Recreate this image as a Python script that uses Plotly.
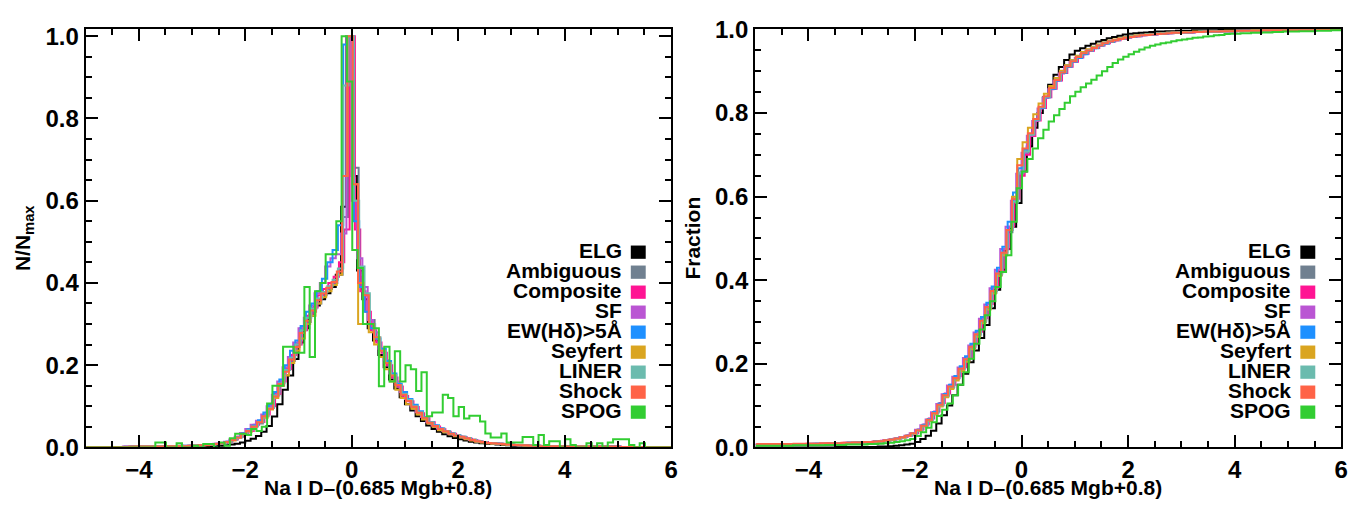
import numpy as np
import plotly.graph_objects as go

# ---------------- data ----------------
series_names = ["ELG", "Ambiguous", "Composite", "SF", "EW(H\u03b4)>5\u00c5",
                "Seyfert", "LINER", "Shock", "SPOG"]
series_colors = ["#000000", "#708090", "#FF1493", "#BA55D3", "#1E90FF",
                 "#DAA520", "#6BBBAE", "#FF6347", "#32CD32"]
bin_width = 0.1
first_edge = -5.0
bin_offsets = [0.00, 0.03, 0.06, 0.00, 0.04, 0.02, 0.04, 0.02, 0.01]

x_tick_values = [-4, -2, 0, 2, 4, 6]
y_tick_values = [0.0, 0.2, 0.4, 0.6, 0.8, 1.0]

# N/Nmax histograms (bins of 0.1 from -5 to 6)
hist_elg = [
    0, 0, 0, 0, 0, 0, 0, 0, 0, 0,
    0, 0, 0, 0, 0, 0.001, 0.001, 0.001, 0.001, 0.001,
    0.001, 0.002, 0.002, 0.003, 0.003, 0.004, 0.005, 0.007, 0.009, 0.012,
    0.016, 0.021, 0.028, 0.038, 0.052, 0.075, 0.105, 0.140, 0.175, 0.215,
    0.255, 0.290, 0.320, 0.345, 0.360, 0.375, 0.390, 0.420, 0.585, 1.000,
    0.660, 0.430, 0.360, 0.290, 0.260, 0.225, 0.195, 0.165, 0.143, 0.122,
    0.105, 0.090, 0.076, 0.064, 0.053, 0.045, 0.038, 0.032, 0.027, 0.023,
    0.020, 0.017, 0.014, 0.012, 0.010, 0.009, 0.008, 0.007, 0.006, 0.005,
    0.004, 0.004, 0.003, 0.003, 0.003, 0.002, 0.002, 0.002, 0.002, 0.002,
    0.001, 0.001, 0.001, 0.001, 0.001, 0.001, 0.001, 0.001, 0.001, 0.001,
    0.001, 0.001, 0.001, 0.001, 0.001, 0, 0, 0, 0, 0]
hist_ambiguous = [
    0.001, 0.001, 0.001, 0.001, 0.001, 0.001, 0.001, 0.002, 0.002, 0.002,
    0.002, 0.002, 0.002, 0.003, 0.002, 0.003, 0.003, 0.004, 0.003, 0.004,
    0.004, 0.005, 0.006, 0.007, 0.009, 0.011, 0.013, 0.019, 0.025, 0.033,
    0.043, 0.052, 0.058, 0.078, 0.098, 0.128, 0.150, 0.190, 0.210, 0.250,
    0.290, 0.305, 0.330, 0.350, 0.370, 0.385, 0.400, 0.420, 0.560, 1.000,
    0.680, 0.420, 0.370, 0.310, 0.265, 0.240, 0.210, 0.170, 0.150, 0.128,
    0.116, 0.098, 0.086, 0.070, 0.062, 0.050, 0.046, 0.038, 0.034, 0.028,
    0.025, 0.022, 0.019, 0.015, 0.012, 0.011, 0.010, 0.009, 0.007, 0.007,
    0.006, 0.005, 0.005, 0.004, 0.004, 0.003, 0.003, 0.003, 0.002, 0.002,
    0.002, 0.002, 0.002, 0.002, 0.002, 0.002, 0.002, 0.002, 0.002, 0.002,
    0.001, 0.001, 0.001, 0.001, 0.001, 0.001, 0.001, 0.001, 0.001, 0.001]
hist_composite = [
    0.001, 0.001, 0.001, 0.001, 0.001, 0.001, 0.001, 0.001, 0.002, 0.002,
    0.002, 0.002, 0.002, 0.002, 0.003, 0.003, 0.003, 0.003, 0.003, 0.004,
    0.004, 0.005, 0.006, 0.008, 0.009, 0.011, 0.014, 0.019, 0.026, 0.033,
    0.040, 0.055, 0.062, 0.080, 0.100, 0.130, 0.160, 0.190, 0.225, 0.250,
    0.285, 0.320, 0.340, 0.370, 0.385, 0.400, 0.415, 0.450, 0.530, 1.000,
    0.530, 0.380, 0.330, 0.285, 0.255, 0.230, 0.200, 0.170, 0.148, 0.125,
    0.112, 0.098, 0.083, 0.071, 0.061, 0.051, 0.044, 0.038, 0.033, 0.028,
    0.025, 0.021, 0.018, 0.015, 0.013, 0.011, 0.010, 0.009, 0.008, 0.007,
    0.006, 0.005, 0.004, 0.004, 0.004, 0.003, 0.003, 0.003, 0.002, 0.002,
    0.002, 0.002, 0.002, 0.002, 0.002, 0.002, 0.002, 0.002, 0.002, 0.002,
    0.001, 0.001, 0.001, 0.001, 0.001, 0.001, 0.001, 0.001, 0.001, 0.001]
hist_sf = [
    0.001, 0.001, 0.001, 0.001, 0.001, 0.001, 0.001, 0.002, 0.001, 0.002,
    0.002, 0.002, 0.002, 0.002, 0.003, 0.003, 0.003, 0.003, 0.004, 0.004,
    0.004, 0.005, 0.006, 0.007, 0.009, 0.011, 0.014, 0.019, 0.026, 0.035,
    0.045, 0.055, 0.065, 0.080, 0.100, 0.128, 0.160, 0.195, 0.220, 0.255,
    0.290, 0.315, 0.345, 0.375, 0.400, 0.440, 0.460, 0.470, 0.520, 1.000,
    0.600, 0.460, 0.390, 0.310, 0.280, 0.240, 0.212, 0.180, 0.160, 0.135,
    0.118, 0.102, 0.086, 0.074, 0.062, 0.053, 0.046, 0.040, 0.034, 0.030,
    0.026, 0.022, 0.018, 0.016, 0.013, 0.011, 0.010, 0.009, 0.008, 0.007,
    0.006, 0.005, 0.005, 0.004, 0.004, 0.003, 0.003, 0.003, 0.003, 0.002,
    0.002, 0.002, 0.002, 0.002, 0.002, 0.002, 0.002, 0.002, 0.002, 0.002,
    0.001, 0.001, 0.001, 0.001, 0.001, 0.001, 0.001, 0.001, 0.001, 0.001]
hist_ew = [
    0.001, 0.001, 0.001, 0.001, 0.001, 0.001, 0.001, 0.001, 0.002, 0.002,
    0.002, 0.002, 0.002, 0.002, 0.002, 0.003, 0.003, 0.003, 0.004, 0.004,
    0.004, 0.005, 0.006, 0.007, 0.008, 0.010, 0.014, 0.019, 0.025, 0.034,
    0.044, 0.053, 0.066, 0.085, 0.105, 0.135, 0.165, 0.200, 0.235, 0.260,
    0.295, 0.330, 0.350, 0.380, 0.410, 0.450, 0.480, 0.540, 0.980, 1.000,
    0.550, 0.390, 0.330, 0.290, 0.265, 0.240, 0.210, 0.180, 0.155, 0.135,
    0.118, 0.104, 0.088, 0.074, 0.062, 0.054, 0.046, 0.040, 0.034, 0.030,
    0.026, 0.022, 0.018, 0.015, 0.013, 0.011, 0.010, 0.009, 0.008, 0.007,
    0.006, 0.005, 0.005, 0.004, 0.004, 0.003, 0.003, 0.003, 0.003, 0.002,
    0.002, 0.002, 0.002, 0.002, 0.002, 0.002, 0.002, 0.002, 0.002, 0.002,
    0.001, 0.001, 0.001, 0.001, 0.001, 0.001, 0.001, 0.001, 0.001, 0.001]
hist_seyfert = [
    0.001, 0.001, 0.001, 0.001, 0.001, 0.001, 0.001, 0.001, 0.001, 0.002,
    0.002, 0.002, 0.002, 0.002, 0.002, 0.002, 0.003, 0.003, 0.003, 0.003,
    0.004, 0.005, 0.005, 0.007, 0.008, 0.010, 0.013, 0.017, 0.023, 0.030,
    0.038, 0.050, 0.062, 0.072, 0.092, 0.120, 0.150, 0.175, 0.205, 0.235,
    0.265, 0.300, 0.320, 0.350, 0.365, 0.380, 0.395, 0.420, 0.660, 1.000,
    0.640, 0.300, 0.300, 0.280, 0.250, 0.220, 0.190, 0.160, 0.140, 0.120,
    0.105, 0.094, 0.080, 0.068, 0.058, 0.050, 0.042, 0.037, 0.032, 0.027,
    0.024, 0.020, 0.017, 0.014, 0.012, 0.010, 0.009, 0.008, 0.007, 0.006,
    0.006, 0.005, 0.004, 0.004, 0.003, 0.003, 0.003, 0.002, 0.002, 0.002,
    0.002, 0.002, 0.002, 0.002, 0.002, 0.001, 0.001, 0.001, 0.001, 0.001,
    0.001, 0.001, 0.001, 0.001, 0.001, 0.001, 0.001, 0.001, 0.001, 0.001]
hist_liner = [
    0.001, 0.001, 0.001, 0.001, 0.001, 0.001, 0.001, 0.001, 0.002, 0.002,
    0.002, 0.002, 0.002, 0.002, 0.002, 0.003, 0.003, 0.003, 0.003, 0.004,
    0.004, 0.005, 0.006, 0.007, 0.008, 0.010, 0.013, 0.018, 0.024, 0.032,
    0.042, 0.051, 0.061, 0.076, 0.096, 0.126, 0.156, 0.188, 0.218, 0.250,
    0.285, 0.315, 0.338, 0.362, 0.378, 0.392, 0.408, 0.435, 0.880, 1.000,
    0.600, 0.440, 0.375, 0.300, 0.268, 0.235, 0.205, 0.176, 0.152, 0.130,
    0.115, 0.100, 0.085, 0.072, 0.061, 0.052, 0.045, 0.039, 0.033, 0.029,
    0.026, 0.022, 0.018, 0.015, 0.013, 0.011, 0.010, 0.009, 0.008, 0.007,
    0.006, 0.005, 0.005, 0.004, 0.004, 0.003, 0.003, 0.003, 0.003, 0.002,
    0.002, 0.002, 0.002, 0.002, 0.002, 0.002, 0.002, 0.002, 0.002, 0.002,
    0.001, 0.001, 0.001, 0.001, 0.001, 0.001, 0.001, 0.001, 0.001, 0.001]
hist_shock = [
    0.001, 0.001, 0.001, 0.001, 0.001, 0.001, 0.001, 0.001, 0.002, 0.002,
    0.002, 0.002, 0.002, 0.002, 0.002, 0.003, 0.003, 0.003, 0.003, 0.004,
    0.004, 0.005, 0.006, 0.007, 0.008, 0.010, 0.013, 0.018, 0.024, 0.032,
    0.040, 0.050, 0.061, 0.076, 0.094, 0.124, 0.154, 0.184, 0.214, 0.244,
    0.278, 0.308, 0.333, 0.358, 0.374, 0.388, 0.402, 0.428, 0.660, 1.000,
    0.640, 0.400, 0.370, 0.300, 0.268, 0.235, 0.205, 0.175, 0.152, 0.128,
    0.113, 0.099, 0.084, 0.072, 0.060, 0.052, 0.045, 0.039, 0.033, 0.029,
    0.026, 0.022, 0.018, 0.015, 0.013, 0.011, 0.010, 0.009, 0.008, 0.007,
    0.006, 0.005, 0.005, 0.004, 0.004, 0.003, 0.003, 0.003, 0.003, 0.002,
    0.002, 0.002, 0.002, 0.002, 0.002, 0.002, 0.002, 0.002, 0.002, 0.002,
    0.001, 0.001, 0.001, 0.001, 0.001, 0.001, 0.001, 0.001, 0.001, 0.001]
hist_spog = [
    0, 0, 0, 0, 0, 0, 0, 0, 0, 0,
    0, 0, 0, 0.012, 0.012, 0, 0, 0.010, 0, 0,
    0.004, 0, 0.008, 0.008, 0, 0.012, 0.004, 0.022, 0.033, 0.033,
    0.030, 0.045, 0.040, 0.050, 0.107, 0.150, 0.150, 0.245, 0.245, 0.230,
    0.230, 0.390, 0.220, 0.380, 0.400, 0.470, 0.470, 0.550, 1.000, 0.890,
    0.480, 0.436, 0.300, 0.300, 0.290, 0.149, 0.245, 0.160, 0.234, 0.160,
    0.200, 0.190, 0.137, 0.183, 0.076, 0.085, 0.085, 0.128, 0.120, 0.076,
    0.098, 0.070, 0.077, 0.077, 0.063, 0.034, 0.024, 0.024, 0.034, 0.012,
    0.012, 0.012, 0.025, 0.025, 0.006, 0.030, 0.006, 0.015, 0.015, 0,
    0.020, 0.006, 0, 0, 0.010, 0, 0.010, 0, 0.012, 0.020,
    0.020, 0.020, 0.006, 0, 0.010, 0, 0, 0, 0, 0]

# cumulative fractions (same 0.1 bins)
cdf_elg = [
    0, 0, 0, 0, 0, 0, 0, 0, 0, 0,
    0, 0, 0, 0, 0, 0.001, 0.001, 0.001, 0.001, 0.001,
    0.001, 0.001, 0.001, 0.002, 0.002, 0.003, 0.004, 0.005, 0.007, 0.009,
    0.013, 0.020, 0.028, 0.040, 0.057, 0.077, 0.100, 0.125, 0.150, 0.176,
    0.204, 0.232, 0.262, 0.293, 0.333, 0.377, 0.425, 0.475, 0.528, 0.585,
    0.660, 0.720, 0.765, 0.800, 0.837, 0.868, 0.892, 0.910, 0.927, 0.940,
    0.949, 0.955, 0.961, 0.966, 0.971, 0.975, 0.979, 0.982, 0.985, 0.988,
    0.990, 0.991, 0.992, 0.993, 0.994, 0.995, 0.995, 0.996, 0.996, 0.997,
    0.997, 0.997, 0.998, 0.998, 0.998, 0.998, 0.998, 0.999, 0.999, 0.999,
    0.999, 0.999, 0.999, 0.999, 0.999, 0.999, 0.999, 0.999, 0.999, 0.999,
    0.999, 0.999, 0.999, 0.999, 0.999, 1.000, 1.000, 1.000, 1.000, 1.000]
cdf_ambiguous = [
    0.007, 0.007, 0.007, 0.007, 0.007, 0.008, 0.008, 0.008, 0.008, 0.008,
    0.009, 0.009, 0.009, 0.009, 0.010, 0.010, 0.010, 0.011, 0.011, 0.012,
    0.012, 0.013, 0.014, 0.015, 0.017, 0.019, 0.021, 0.024, 0.028, 0.033,
    0.040, 0.051, 0.065, 0.081, 0.100, 0.122, 0.143, 0.164, 0.186, 0.209,
    0.238, 0.268, 0.300, 0.333, 0.370, 0.412, 0.460, 0.515, 0.585, 0.655,
    0.705, 0.747, 0.783, 0.813, 0.838, 0.859, 0.879, 0.897, 0.912, 0.924,
    0.935, 0.944, 0.951, 0.957, 0.963, 0.968, 0.972, 0.975, 0.978, 0.981,
    0.983, 0.985, 0.987, 0.988, 0.989, 0.990, 0.991, 0.992, 0.992, 0.993,
    0.993, 0.994, 0.994, 0.995, 0.995, 0.995, 0.996, 0.996, 0.996, 0.996,
    0.997, 0.997, 0.997, 0.997, 0.997, 0.998, 0.998, 0.998, 0.998, 0.998,
    0.998, 0.998, 0.998, 0.998, 0.998, 0.999, 0.999, 0.999, 0.999, 0.999]
cdf_composite = [
    0.007, 0.007, 0.007, 0.007, 0.008, 0.008, 0.008, 0.008, 0.008, 0.009,
    0.009, 0.009, 0.009, 0.010, 0.010, 0.010, 0.011, 0.011, 0.012, 0.012,
    0.013, 0.013, 0.014, 0.016, 0.017, 0.019, 0.022, 0.025, 0.029, 0.034,
    0.043, 0.055, 0.069, 0.086, 0.106, 0.129, 0.150, 0.170, 0.192, 0.216,
    0.246, 0.277, 0.309, 0.343, 0.381, 0.424, 0.474, 0.528, 0.595, 0.650,
    0.700, 0.745, 0.782, 0.812, 0.838, 0.858, 0.878, 0.896, 0.911, 0.923,
    0.933, 0.942, 0.949, 0.956, 0.962, 0.967, 0.971, 0.974, 0.977, 0.980,
    0.982, 0.984, 0.986, 0.987, 0.988, 0.989, 0.990, 0.991, 0.992, 0.992,
    0.993, 0.993, 0.994, 0.994, 0.995, 0.995, 0.995, 0.996, 0.996, 0.996,
    0.996, 0.997, 0.997, 0.997, 0.997, 0.997, 0.998, 0.998, 0.998, 0.998,
    0.998, 0.998, 0.998, 0.998, 0.999, 0.999, 0.999, 0.999, 0.999, 0.999]
cdf_sf = [
    0.007, 0.007, 0.007, 0.007, 0.007, 0.007, 0.008, 0.008, 0.008, 0.008,
    0.008, 0.009, 0.009, 0.009, 0.009, 0.010, 0.010, 0.011, 0.011, 0.012,
    0.012, 0.013, 0.014, 0.015, 0.017, 0.019, 0.021, 0.024, 0.028, 0.034,
    0.042, 0.053, 0.067, 0.084, 0.104, 0.127, 0.148, 0.169, 0.191, 0.214,
    0.244, 0.275, 0.308, 0.342, 0.381, 0.425, 0.475, 0.528, 0.590, 0.655,
    0.705, 0.746, 0.781, 0.811, 0.836, 0.857, 0.877, 0.895, 0.910, 0.922,
    0.932, 0.941, 0.949, 0.955, 0.961, 0.966, 0.970, 0.974, 0.977, 0.980,
    0.982, 0.984, 0.986, 0.987, 0.988, 0.989, 0.990, 0.991, 0.992, 0.992,
    0.993, 0.993, 0.994, 0.994, 0.995, 0.995, 0.995, 0.996, 0.996, 0.996,
    0.997, 0.997, 0.997, 0.997, 0.997, 0.998, 0.998, 0.998, 0.998, 0.998,
    0.998, 0.998, 0.998, 0.998, 0.998, 0.999, 0.999, 0.999, 0.999, 0.999]
cdf_ew = [
    0.006, 0.006, 0.006, 0.007, 0.007, 0.007, 0.007, 0.008, 0.008, 0.008,
    0.008, 0.009, 0.009, 0.009, 0.010, 0.010, 0.010, 0.011, 0.011, 0.012,
    0.012, 0.013, 0.014, 0.015, 0.017, 0.019, 0.021, 0.024, 0.028, 0.034,
    0.042, 0.054, 0.068, 0.085, 0.105, 0.128, 0.150, 0.171, 0.194, 0.218,
    0.248, 0.279, 0.312, 0.346, 0.385, 0.430, 0.480, 0.540, 0.610, 0.668,
    0.712, 0.750, 0.784, 0.813, 0.838, 0.858, 0.878, 0.896, 0.911, 0.923,
    0.932, 0.941, 0.949, 0.955, 0.961, 0.966, 0.970, 0.974, 0.977, 0.980,
    0.982, 0.984, 0.986, 0.987, 0.988, 0.989, 0.990, 0.991, 0.992, 0.992,
    0.993, 0.993, 0.994, 0.994, 0.995, 0.995, 0.995, 0.996, 0.996, 0.996,
    0.997, 0.997, 0.997, 0.997, 0.997, 0.998, 0.998, 0.998, 0.998, 0.998,
    0.998, 0.998, 0.998, 0.998, 0.998, 0.999, 0.999, 0.999, 0.999, 0.999]
cdf_seyfert = [
    0.006, 0.006, 0.006, 0.006, 0.007, 0.007, 0.007, 0.007, 0.007, 0.008,
    0.008, 0.008, 0.008, 0.009, 0.009, 0.009, 0.010, 0.010, 0.011, 0.011,
    0.012, 0.012, 0.013, 0.014, 0.016, 0.018, 0.020, 0.023, 0.027, 0.032,
    0.039, 0.050, 0.063, 0.079, 0.098, 0.120, 0.140, 0.160, 0.182, 0.205,
    0.235, 0.265, 0.297, 0.330, 0.368, 0.410, 0.460, 0.520, 0.600, 0.690,
    0.730, 0.765, 0.797, 0.823, 0.846, 0.865, 0.884, 0.901, 0.915, 0.927,
    0.937, 0.946, 0.953, 0.959, 0.964, 0.969, 0.973, 0.976, 0.979, 0.982,
    0.984, 0.986, 0.987, 0.988, 0.989, 0.990, 0.991, 0.992, 0.993, 0.993,
    0.994, 0.994, 0.995, 0.995, 0.995, 0.996, 0.996, 0.996, 0.997, 0.997,
    0.997, 0.997, 0.997, 0.998, 0.998, 0.998, 0.998, 0.998, 0.998, 0.998,
    0.999, 0.999, 0.999, 0.999, 0.999, 0.999, 0.999, 0.999, 0.999, 0.999]
cdf_liner = [
    0.007, 0.007, 0.007, 0.007, 0.007, 0.008, 0.008, 0.008, 0.008, 0.008,
    0.009, 0.009, 0.009, 0.009, 0.010, 0.010, 0.010, 0.011, 0.011, 0.012,
    0.012, 0.013, 0.014, 0.015, 0.017, 0.019, 0.021, 0.024, 0.028, 0.033,
    0.041, 0.052, 0.066, 0.082, 0.101, 0.124, 0.145, 0.166, 0.188, 0.211,
    0.241, 0.271, 0.303, 0.336, 0.374, 0.416, 0.466, 0.520, 0.588, 0.658,
    0.708, 0.748, 0.784, 0.814, 0.839, 0.860, 0.880, 0.898, 0.913, 0.925,
    0.935, 0.944, 0.951, 0.957, 0.963, 0.968, 0.972, 0.975, 0.978, 0.981,
    0.983, 0.985, 0.987, 0.988, 0.989, 0.990, 0.991, 0.992, 0.992, 0.993,
    0.993, 0.994, 0.994, 0.995, 0.995, 0.995, 0.996, 0.996, 0.996, 0.996,
    0.997, 0.997, 0.997, 0.997, 0.997, 0.998, 0.998, 0.998, 0.998, 0.998,
    0.998, 0.998, 0.998, 0.998, 0.998, 0.999, 0.999, 0.999, 0.999, 0.999]
cdf_shock = [
    0.008, 0.008, 0.008, 0.008, 0.008, 0.008, 0.008, 0.009, 0.009, 0.009,
    0.009, 0.009, 0.010, 0.010, 0.010, 0.010, 0.011, 0.011, 0.012, 0.012,
    0.013, 0.013, 0.014, 0.015, 0.017, 0.019, 0.021, 0.024, 0.028, 0.034,
    0.041, 0.052, 0.066, 0.082, 0.102, 0.125, 0.146, 0.166, 0.188, 0.211,
    0.241, 0.271, 0.303, 0.336, 0.374, 0.416, 0.466, 0.520, 0.595, 0.675,
    0.715, 0.752, 0.786, 0.815, 0.840, 0.860, 0.879, 0.897, 0.912, 0.924,
    0.934, 0.943, 0.950, 0.956, 0.962, 0.967, 0.971, 0.974, 0.977, 0.980,
    0.982, 0.984, 0.986, 0.987, 0.988, 0.989, 0.990, 0.991, 0.992, 0.992,
    0.993, 0.993, 0.994, 0.994, 0.995, 0.995, 0.995, 0.996, 0.996, 0.996,
    0.997, 0.997, 0.997, 0.997, 0.997, 0.998, 0.998, 0.998, 0.998, 0.998,
    0.998, 0.998, 0.998, 0.998, 0.998, 0.999, 0.999, 0.999, 0.999, 0.999]
cdf_spog = [
    0.004, 0.004, 0.004, 0.004, 0.004, 0.004, 0.004, 0.005, 0.005, 0.005,
    0.005, 0.005, 0.005, 0.006, 0.006, 0.006, 0.006, 0.007, 0.007, 0.007,
    0.007, 0.008, 0.008, 0.009, 0.010, 0.011, 0.013, 0.015, 0.017, 0.020,
    0.027, 0.036, 0.047, 0.060, 0.075, 0.090, 0.105, 0.125, 0.150, 0.180,
    0.212, 0.248, 0.282, 0.316, 0.350, 0.384, 0.420, 0.460, 0.540, 0.620,
    0.660, 0.690, 0.715, 0.740, 0.760, 0.780, 0.795, 0.810, 0.825, 0.840,
    0.851, 0.862, 0.871, 0.880, 0.890, 0.900, 0.910, 0.920, 0.928, 0.935,
    0.941, 0.947, 0.952, 0.957, 0.961, 0.964, 0.967, 0.969, 0.972, 0.974,
    0.976, 0.978, 0.980, 0.981, 0.983, 0.984, 0.986, 0.987, 0.989, 0.990,
    0.990, 0.991, 0.991, 0.992, 0.992, 0.993, 0.993, 0.994, 0.994, 0.995,
    0.995, 0.995, 0.996, 0.996, 0.996, 0.997, 0.997, 0.997, 0.998, 0.998]

hist_data = [hist_elg, hist_ambiguous, hist_composite, hist_sf, hist_ew,
             hist_seyfert, hist_liner, hist_shock, hist_spog]
cdf_data = [cdf_elg, cdf_ambiguous, cdf_composite, cdf_sf, cdf_ew,
            cdf_seyfert, cdf_liner, cdf_shock, cdf_spog]

x_title = "Na I D\u2013(0.685 Mgb+0.8)"
y_title_left = "N/N<sub>max</sub>"
y_title_right = "Fraction"

# ---------------- layout geometry (pixels) ----------------
W, H = 1368, 506
FONT = "Liberation Sans, Arial, Helvetica, sans-serif"
left_px = (78, 666.5)
right_px = (751, 1340)
top_px, bottom_px = 8.3, 449.5


def px_x(p):
    return p / W


def px_y(p):
    return (H - p) / H


fig = go.Figure()

for k in range(len(series_names)):
    h = hist_data[k]
    c = cdf_data[k]
    assert len(h) == 110 and len(c) == 110, (k, len(h), len(c))
    edges = first_edge + bin_offsets[k] + bin_width * np.arange(len(h) + 1)
    fig.add_trace(go.Scatter(
        x=edges, y=list(h) + [h[-1]], mode="lines",
        line=dict(color=series_colors[k], width=2, shape="hv"),
        xaxis="x", yaxis="y", showlegend=False, hoverinfo="skip"))
    fig.add_trace(go.Scatter(
        x=edges, y=list(c) + [c[-1]], mode="lines",
        line=dict(color=series_colors[k], width=2, shape="hv"),
        xaxis="x2", yaxis="y2", showlegend=False, hoverinfo="skip"))


def axis_style(tickvals, minor_dtick, rng, domain, anchor, fmt=None):
    d = dict(
        showline=True, linecolor="black", linewidth=2, mirror="ticks",
        ticks="inside", ticklen=12, tickwidth=1.5, tickcolor="black",
        showgrid=False, zeroline=False,
        tickfont=dict(family=FONT, size=24, color="black", weight="bold"),
        tickmode="array", tickvals=tickvals, range=rng, domain=domain,
        anchor=anchor,
        minor=dict(ticks="inside", ticklen=6, tickwidth=1.5,
                   tickcolor="black", dtick=minor_dtick, tick0=0,
                   showgrid=False))
    if fmt:
        d["tickformat"] = fmt
    return d


ydom = [px_y(bottom_px), px_y(top_px)]
fig.update_layout(
    width=W, height=H, margin=dict(l=0, r=0, t=0, b=0),
    paper_bgcolor="white", plot_bgcolor="white",
    font=dict(family=FONT, color="black"),
    xaxis=axis_style(x_tick_values, 0.5, [-5, 6],
                     [px_x(left_px[0]), px_x(left_px[1])], "y"),
    yaxis=axis_style(y_tick_values, 0.05, [0, 1.0178], ydom, "x", ".1f"),
    xaxis2=axis_style(x_tick_values, 0.5, [-5, 6],
                      [px_x(right_px[0]), px_x(right_px[1])], "y2"),
    yaxis2=axis_style(y_tick_values, 0.05, [0, 1.0015], ydom, "x2", ".1f"),
)

annotations = []
shapes = []
title_font = dict(family=FONT, size=21, color="black", weight="bold")
for (x0, x1), ytxt, ytx in [(left_px, y_title_left, 16), (right_px, y_title_right, 688)]:
    annotations.append(dict(
        x=px_x((x0 + x1) / 2), y=px_y(492), xref="paper", yref="paper",
        text=x_title, showarrow=False, xanchor="center", yanchor="middle",
        font=title_font))
    annotations.append(dict(
        x=px_x(ytx), y=px_y((top_px + bottom_px) / 2), xref="paper",
        yref="paper", text=ytxt, showarrow=False, textangle=-90,
        xanchor="center", yanchor="middle", font=title_font))

# legends
row0, row_step = 243.7, 21.08
for text_right, sq_left in [(619, 626), (1292, 1299)]:
    for k, name in enumerate(series_names):
        yc = row0 + row_step * k
        annotations.append(dict(
            x=px_x(text_right), y=px_y(yc - 1.5), xref="paper", yref="paper",
            text=name, showarrow=False, xanchor="right", yanchor="middle",
            font=title_font))
        shapes.append(dict(
            type="rect", xref="paper", yref="paper",
            x0=px_x(sq_left), x1=px_x(sq_left + 15),
            y0=px_y(yc + 7), y1=px_y(yc - 7),
            fillcolor=series_colors[k], line=dict(width=0)))

fig.update_layout(annotations=annotations, shapes=shapes)
fig.write_html("out.html")
